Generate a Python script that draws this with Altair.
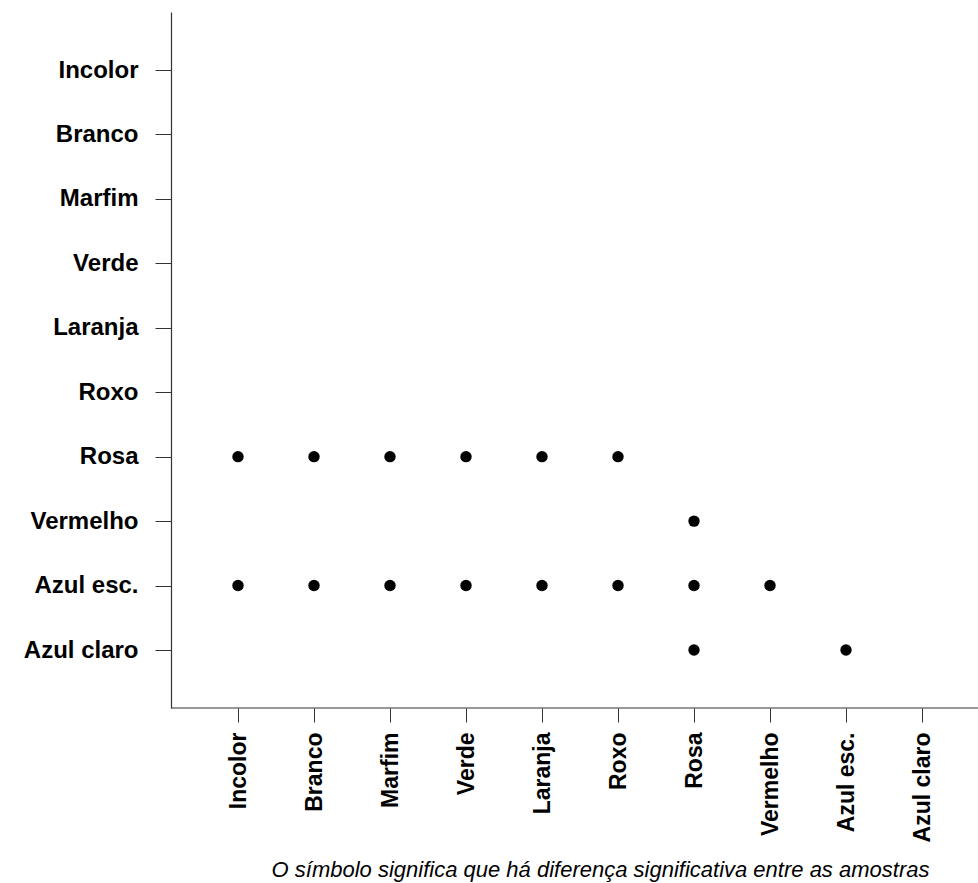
import altair as alt
import pandas as pd

# Colour categories compared in the test (order of the axes)
cores = ["Incolor", "Branco", "Marfim", "Verde", "Laranja",
         "Roxo", "Rosa", "Vermelho", "Azul esc.", "Azul claro"]

# Pairs with a significant difference: (column, row)
linha_rosa = ["Incolor", "Branco", "Marfim", "Verde", "Laranja", "Roxo"]
linha_vermelho = ["Rosa"]
linha_azul_esc = ["Incolor", "Branco", "Marfim", "Verde", "Laranja", "Roxo", "Rosa", "Vermelho"]
linha_azul_claro = ["Rosa", "Azul esc."]

pares = (
    [(c, "Rosa") for c in linha_rosa]
    + [(c, "Vermelho") for c in linha_vermelho]
    + [(c, "Azul esc.") for c in linha_azul_esc]
    + [(c, "Azul claro") for c in linha_azul_claro]
)
df = pd.DataFrame(pares, columns=["coluna", "linha"])

W, H = 807, 696
FONT = "Liberation Sans"

pontos = alt.Chart(df).mark_circle(size=130, color="black", opacity=1).encode(
    x=alt.X(
        "coluna:N",
        sort=cores,
        scale=alt.Scale(domain=cores, range=[67, 751], padding=0),
        axis=alt.Axis(
            title=None, domain=False, labelAngle=270, labelFont=FONT,
            labelFontSize=23, labelFontWeight="bold", labelColor="black",
            tickSize=14, tickColor="#333333", tickWidth=1, labelPadding=10,
            grid=False, labelOverlap=False,
        ),
    ),
    y=alt.Y(
        "linha:N",
        sort=cores,
        scale=alt.Scale(domain=cores, padding=0.9),
        axis=alt.Axis(
            title=None, domainColor="#333333", domainWidth=1.2, labelFont=FONT,
            labelFontSize=24, labelFontWeight="bold", labelColor="black",
            tickSize=16, tickColor="#333333", tickWidth=1, labelPadding=17,
            grid=False, labelOverlap=False,
        ),
    ),
)

# Bottom axis line spanning the whole plot width
eixo_x = alt.Chart(pd.DataFrame({"a": [0]})).mark_rule(
    color="#333333", strokeWidth=1.2
).encode(x=alt.value(0), x2=alt.value(W), y=alt.value(H))

chart = alt.layer(pontos, eixo_x).properties(
    width=W,
    height=H,
    background="white",
    padding={"left": 171, "top": 12, "right": 0, "bottom": 175},
    autosize=alt.AutoSizeParams(type="none"),
    title=alt.TitleParams(
        "O símbolo significa que há diferença significativa entre as amostras",
        orient="bottom", anchor="middle", dx=26, offset=18,
        font=FONT, fontSize=22, fontStyle="italic", fontWeight="normal",
        color="black",
    ),
).configure_view(strokeWidth=0, stroke="transparent")

chart.save("out.html", embed_options={"renderer": "svg", "actions": False})
